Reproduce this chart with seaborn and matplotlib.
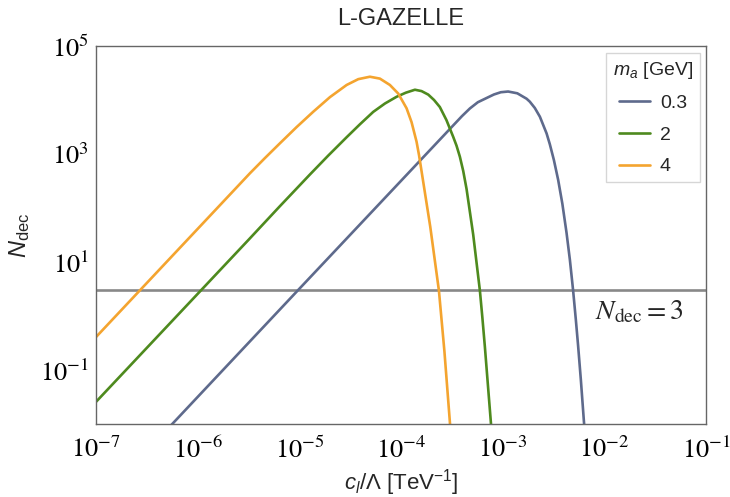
import numpy as np
import pandas as pd
import matplotlib
matplotlib.use("Agg")
import matplotlib.pyplot as plt
import matplotlib.ticker as mticker
import seaborn as sns

# ---- data (log10 values) ----
masses = ["0.3", "2", "4"]
colors = ["#5E6A8C", "#4E8A1E", "#F4A42F"]

logc_03 = [-6.30, -5.017, -3.401, -3.322, -3.244, -3.158, -3.086, -3.018, -2.946, -2.856,
           -2.765, -2.733, -2.684, -2.634, -2.568, -2.536, -2.496, -2.454, -2.413, -2.372,
           -2.339, -2.307, -2.280, -2.258, -2.231, -2.201, -2.19]
logN_03 = [-2.10, 0.47, 3.70, 3.844, 3.959, 4.037, 4.102, 4.144, 4.157, 4.124,
           4.024, 3.969, 3.853, 3.691, 3.381, 3.180, 2.887, 2.519, 2.080, 1.544,
           1.043, 0.472, -0.074, -0.550, -1.180, -1.948, -2.20]

logc_2 = [-7.0, -5.5, -5.198, -4.896, -4.716, -4.535, -4.404, -4.273, -4.158, -4.043,
          -3.953, -3.863, -3.798, -3.732, -3.675, -3.618, -3.553, -3.487, -3.454, -3.421,
          -3.388, -3.355, -3.290, -3.224, -3.200, -3.175, -3.146, -3.116, -3.100]
logN_2 = [-1.59, 1.41, 2.02, 2.62, 2.97, 3.31, 3.55, 3.78, 3.935, 4.06,
          4.135, 4.19, 4.165, 4.10, 4.00, 3.87, 3.628, 3.32, 3.155, 2.95,
          2.686, 2.35, 1.509, 0.47, -0.022, -0.57, -1.259, -1.97, -2.37]

logc_4 = [-7.0, -5.486, -5.3385, -5.191, -5.027, -4.863, -4.699, -4.535, -4.4205, -4.306,
          -4.2075, -4.109, -4.027, -3.945, -3.896, -3.847, -3.822, -3.797, -3.712, -3.627,
          -3.573, -3.519, -3.50]
logN_4 = [-0.39, 2.643, 2.9245, 3.198, 3.498, 3.783, 4.053, 4.278, 4.386, 4.431,
          4.396, 4.278, 4.119, 3.846, 3.589, 3.228, 2.971, 2.672, 1.65, 0.47,
          -0.653, -1.97, -2.45]

N_threshold = 3

x_tick_exps = [-7, -6, -5, -4, -3, -2, -1]
y_tick_exps = [-1, 1, 3, 5]

frames = []
for m, lc, ln in zip(masses, [logc_03, logc_2, logc_4], [logN_03, logN_2, logN_4]):
    frames.append(pd.DataFrame({"c": np.power(10.0, lc), "N": np.power(10.0, ln), "m": m}))
df = pd.concat(frames, ignore_index=True)

# ---- style ----
sns.set_style("white")
plt.rcParams["font.family"] = ["Liberation Sans", "DejaVu Sans"]
plt.rcParams["mathtext.fontset"] = "custom"
plt.rcParams["mathtext.rm"] = "Liberation Sans"
plt.rcParams["mathtext.it"] = "Liberation Sans:italic"
plt.rcParams["mathtext.bf"] = "Liberation Sans:bold"

frame_col = "#666666"

fig = plt.figure(figsize=(7.30, 4.97), dpi=100)
ax = fig.add_axes([96 / 730, 1 - 424 / 497, 610 / 730, 378 / 497])
ax.set_xscale("log")
ax.set_yscale("log")

sns.lineplot(data=df, x="c", y="N", hue="m", hue_order=masses, palette=colors,
             sort=False, estimator=None, lw=1.9, ax=ax, legend=True)
for ln in ax.get_lines():
    ln.set_solid_joinstyle("round")
    ln.set_solid_capstyle("round")

ax.axhline(N_threshold, color="#888888", lw=1.9, zorder=1)

ax.set_xlim(1e-7, 1e-1)
ax.set_ylim(1e-2, 1e5)

# ticks
ax.xaxis.set_major_locator(mticker.FixedLocator([10.0 ** e for e in x_tick_exps]))
ax.xaxis.set_major_formatter(mticker.FixedFormatter([r"$10^{%d}$" % e for e in x_tick_exps]))
ax.xaxis.set_minor_locator(mticker.LogLocator(base=10, subs=np.arange(2, 10), numticks=50))
ax.xaxis.set_minor_formatter(mticker.NullFormatter())

ax.yaxis.set_major_locator(mticker.FixedLocator([10.0 ** e for e in y_tick_exps]))
ax.yaxis.set_major_formatter(mticker.FixedFormatter([r"$10^{%d}$" % e for e in y_tick_exps]))
ax.yaxis.set_minor_locator(mticker.FixedLocator([10.0 ** (k / 5) for k in range(-10, 26)]))
ax.yaxis.set_minor_formatter(mticker.NullFormatter())

ax.tick_params(which="both", direction="in", color=frame_col, top=False, right=False)
ax.tick_params(which="major", length=6, width=0.9, labelsize=19)
ax.tick_params(axis="x", which="major", pad=9)
ax.tick_params(axis="y", which="major", pad=5)
ax.tick_params(which="minor", length=3, width=0.8)
for lab in ax.get_xticklabels() + ax.get_yticklabels():
    lab.set_math_fontfamily("stix")
    lab.set_color("black")

for sp in ax.spines.values():
    sp.set_color(frame_col)
    sp.set_linewidth(1.0)

ax.set_xlabel(r"$c_l/\Lambda$ [TeV$^{\mathrm{-1}}$]", fontsize=16, labelpad=3)
ax.set_ylabel(r"$N_{\mathrm{dec}}$", fontsize=17, labelpad=6)
ax.set_title("L-GAZELLE", fontsize=17, pad=15)

ax.text(0.962, 0.295, r"$N_{\mathrm{dec}} = 3$", transform=ax.transAxes,
        ha="right", va="center", fontsize=20, math_fontfamily="stix")

handles, labels = ax.get_legend_handles_labels()
ax.legend(handles, labels, title=r"$m_a$ [GeV]", loc="upper right",
          bbox_to_anchor=(0.99, 0.982), borderaxespad=0, fontsize=14,
          title_fontsize=14, frameon=True, fancybox=False, edgecolor="#CCCCCC",
          handlelength=1.6, handletextpad=0.5, labelspacing=0.72,
          borderpad=0.35)

fig.savefig("out.png", dpi=100)
